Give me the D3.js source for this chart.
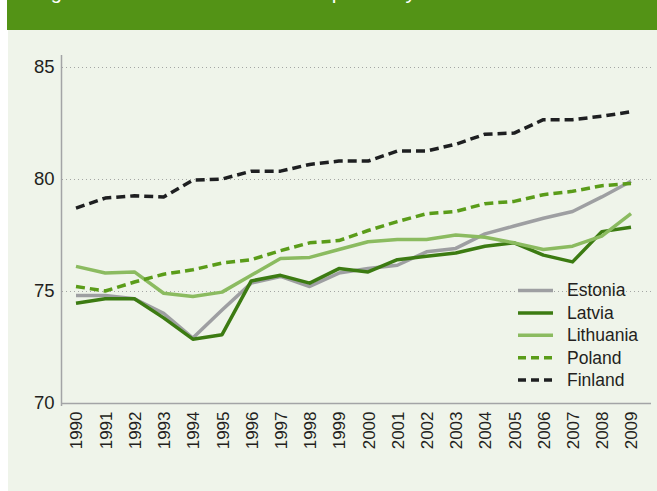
<!DOCTYPE html>
<html>
<head>
    <meta charset="utf-8">
    <script src="https://cdnjs.cloudflare.com/ajax/libs/d3/7.8.5/d3.min.js"></script>
    <style>
        body {
            margin: 0;
            padding: 0;
            background: white;
            font-family: "Liberation Sans", Arial, Helvetica, sans-serif;
        }
    </style>
</head>
<body>
    <svg id="chart" width="657" height="491"></svg>

    <script>
        // Data
        const years = d3.range(1990, 2010);
        const estonia   = [74.8, 74.8, 74.65, 74.0, 72.9, 74.15, 75.35, 75.65, 75.2, 75.8, 76.0, 76.15, 76.75, 76.9, 77.55, 77.9, 78.25, 78.55, 79.2, 79.9];
        const latvia    = [74.45, 74.65, 74.65, 73.8, 72.85, 73.05, 75.45, 75.7, 75.35, 76.0, 75.85, 76.4, 76.55, 76.7, 77.0, 77.15, 76.6, 76.3, 77.65, 77.85];
        const lithuania = [76.1, 75.8, 75.85, 74.9, 74.75, 74.95, 75.7, 76.45, 76.5, 76.85, 77.2, 77.3, 77.3, 77.5, 77.4, 77.15, 76.85, 77.0, 77.45, 78.45];
        const poland    = [75.2, 75.0, 75.4, 75.75, 75.95, 76.25, 76.4, 76.8, 77.15, 77.25, 77.7, 78.1, 78.45, 78.55, 78.9, 79.0, 79.3, 79.45, 79.7, 79.8];
        const finland   = [78.7, 79.15, 79.25, 79.2, 79.95, 80.0, 80.35, 80.35, 80.65, 80.8, 80.8, 81.25, 81.25, 81.55, 82.0, 82.05, 82.65, 82.65, 82.8, 83.0];
        const yTicks = [70, 75, 80, 85];

        const series = [
            { name: 'Estonia',   values: estonia,   color: '#9e9fa2', dash: null },
            { name: 'Latvia',    values: latvia,    color: '#3c7b12', dash: null },
            { name: 'Lithuania', values: lithuania, color: '#8bbb60', dash: null },
            { name: 'Poland',    values: poland,    color: '#5a9c19', dash: '9,5' },
            { name: 'Finland',   values: finland,   color: '#1e1f21', dash: '9,5' }
        ];

        const svg = d3.select('#chart');
        const textColor = '#231f20';

        // Background panel and header bar
        svg.append('rect')
            .attr('x', 8).attr('y', 0)
            .attr('width', 649).attr('height', 491)
            .attr('fill', '#eff4ea');
        svg.append('rect')
            .attr('x', 7).attr('y', 0)
            .attr('width', 650).attr('height', 30)
            .attr('fill', '#539316');

        // Title (mostly cropped off at top in reference)
        svg.append('text')
            .attr('x', 34).attr('y', -1)
            .attr('fill', 'white')
            .attr('font-size', '20px')
            .text('Figure 2.1');
        svg.append('text')
            .attr('x', 270).attr('y', -1)
            .attr('fill', 'white')
            .attr('font-size', '21px')
            .text('Life expectancy at birth');

        // Scales
        const x = d3.scalePoint()
            .domain(years)
            .range([76, 631]);
        const y = d3.scaleLinear()
            .domain([70, 85])
            .range([403, 67]);

        // Gridlines
        svg.append('g')
            .selectAll('line')
            .data(yTicks.filter(d => d > 70))
            .join('line')
            .attr('x1', 62).attr('x2', 651)
            .attr('y1', d => y(d) + 0.5).attr('y2', d => y(d) + 0.5)
            .attr('stroke', '#a4a6a4')
            .attr('stroke-width', 1)
            .attr('stroke-dasharray', '1,3');

        // Y axis
        const yAxis = svg.append('g')
            .attr('transform', 'translate(61.5,0)')
            .call(d3.axisLeft(y).tickValues(yTicks).tickSize(0).tickPadding(7));
        yAxis.select('.domain').remove();
        yAxis.selectAll('text')
            .attr('font-size', '18.5px')
            .attr('font-family', '"Liberation Sans", Arial, sans-serif')
            .attr('fill', textColor);
        svg.append('line')
            .attr('x1', 61.5).attr('x2', 61.5)
            .attr('y1', 55).attr('y2', 406)
            .attr('stroke', '#a3a4a6').attr('stroke-width', 1.5);

        // X axis
        const xAxis = svg.append('g')
            .attr('transform', 'translate(0,403.5)')
            .call(d3.axisBottom(x).tickSize(0));
        xAxis.select('.domain').remove();
        xAxis.selectAll('text')
            .attr('font-size', '17px')
            .attr('font-family', '"Liberation Sans", Arial, sans-serif')
            .attr('fill', textColor)
            .attr('text-anchor', 'end')
            .attr('transform', 'rotate(-90)')
            .attr('x', -8)
            .attr('y', 0)
            .attr('dy', '0.35em');
        svg.append('line')
            .attr('x1', 61).attr('x2', 651)
            .attr('y1', 403.5).attr('y2', 403.5)
            .attr('stroke', '#a3a4a6').attr('stroke-width', 1.5);

        // Lines
        const line = d3.line()
            .x((d, i) => x(years[i]))
            .y(d => y(d));

        svg.append('g')
            .selectAll('path')
            .data(series)
            .join('path')
            .attr('d', d => line(d.values))
            .attr('fill', 'none')
            .attr('stroke', d => d.color)
            .attr('stroke-width', 3.5)
            .attr('stroke-linejoin', 'round')
            .attr('stroke-dasharray', d => d.dash);

        // Legend
        const legend = svg.append('g')
            .attr('transform', 'translate(518,290)');
        const rows = legend.selectAll('g')
            .data(series)
            .join('g')
            .attr('transform', (d, i) => `translate(0,${i * 22.4})`);
        rows.append('line')
            .attr('x1', 0).attr('x2', 35)
            .attr('y1', 0.5).attr('y2', 0.5)
            .attr('stroke', d => d.color)
            .attr('stroke-width', 3.5)
            .attr('stroke-dasharray', d => d.dash ? '8,5' : null);
        rows.append('text')
            .attr('x', 49)
            .attr('dy', '0.36em')
            .attr('font-size', '17.5px')
            .attr('fill', textColor)
            .text(d => d.name);
    </script>
</body>
</html>
